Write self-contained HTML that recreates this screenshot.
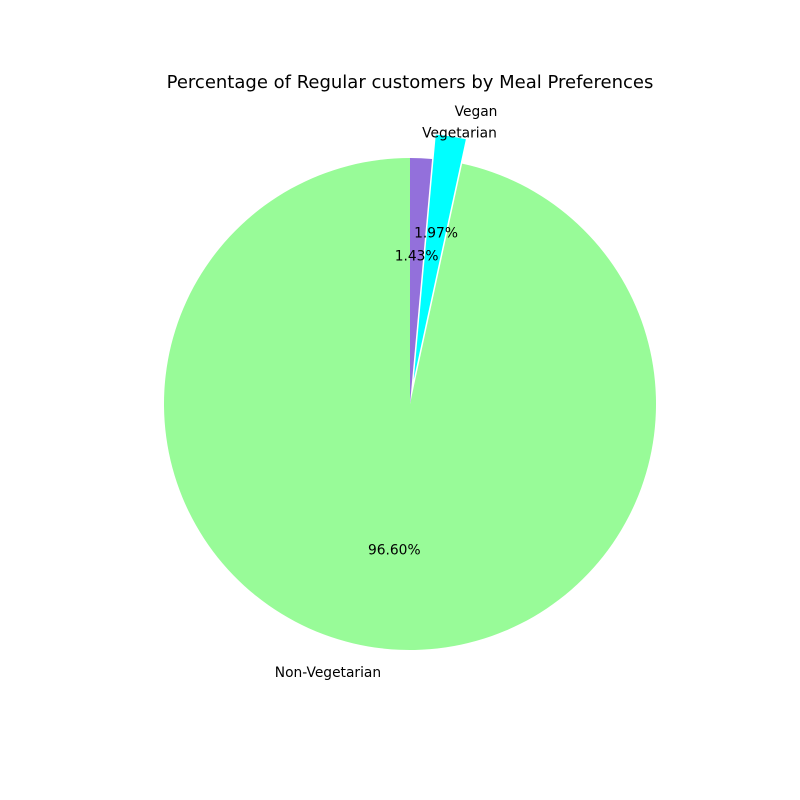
<!DOCTYPE html>
<html><head><meta charset="utf-8"><style>
html,body{margin:0;padding:0;background:#fff;}
svg{display:block;font-family:"DejaVu Sans","Liberation Sans",sans-serif;}
</style></head><body>
<svg id="chart" width="800" height="800" viewBox="0 0 800 800">
<rect width="800" height="800" fill="#fff"/>
<text x="410" y="88" text-anchor="middle" font-size="18" fill="#000">Percentage of Regular customers by Meal Preferences</text>
<g id="slices"></g>
<g id="texts"></g>
</svg>
<script>
const categories = ["Vegetarian", "Vegan", "Non-Vegetarian"];
const values = [1.43, 1.97, 96.60];
const pctLabels = ["1.43%", "1.97%", "96.60%"];
const explode = [0, 0.1, 0];
const colors = ["#9370DB", "#00FFFF", "#98FB98"];

const cx = 410, cy = 404, R = 246;
const svgNS = "http://www.w3.org/2000/svg";
const g = document.getElementById("slices");
const tg = document.getElementById("texts");
const total = values.reduce((a, b) => a + b, 0);
let start = 90;
function pt(r, deg, ox, oy) {
  const a = deg * Math.PI / 180;
  return [ox + r * Math.cos(a), oy - r * Math.sin(a)];
}
values.forEach((v, i) => {
  const span = v / total * 360;
  const end = start - span;
  const mid = (start + end) / 2;
  const [ox, oy] = pt(explode[i] * R, mid, cx, cy);
  const p1 = pt(R, start, ox, oy), p2 = pt(R, end, ox, oy);
  const large = span > 180 ? 1 : 0;
  const path = document.createElementNS(svgNS, "path");
  path.setAttribute("d", `M${ox},${oy} L${p1[0]},${p1[1]} A${R},${R} 0 ${large} 1 ${p2[0]},${p2[1]} Z`);
  path.setAttribute("fill", colors[i]);
  
  
  g.appendChild(path);

  const lp = pt(1.1 * R, mid, ox, oy);
  const lt = document.createElementNS(svgNS, "text");
  lt.setAttribute("x", lp[0]);
  lt.setAttribute("y", lp[1] + 3.8);
  lt.setAttribute("font-size", "13.8");
  lt.setAttribute("text-anchor", Math.cos(mid * Math.PI / 180) >= 0 ? "start" : "end");
  lt.textContent = categories[i];
  
  
  tg.appendChild(lt);

  const pp = pt(0.6 * R, mid, ox, oy);
  const pt_ = document.createElementNS(svgNS, "text");
  pt_.setAttribute("x", pp[0]);
  pt_.setAttribute("y", pp[1] + 3.8);
  pt_.setAttribute("font-size", "13.8");
  pt_.setAttribute("text-anchor", "middle");
  pt_.textContent = pctLabels[i];
  
  
  tg.appendChild(pt_);
  start = end;
});
</script>
</body></html>
